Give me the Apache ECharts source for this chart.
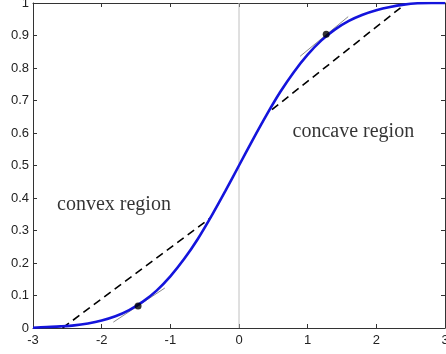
<!DOCTYPE html>
<html>
<head>
<meta charset="utf-8">
<script src="https://cdn.jsdelivr.net/npm/echarts@6/dist/echarts.min.js"></script>
<style>html,body{margin:0;padding:0;background:#fff}#c{width:446px;height:354px}</style>
</head>
<body>
<div id="c"></div>
<script>
// Sigmoid curve
const curveX = [-3,-2.8,-2.6,-2.4,-2.2,-2.0,-1.8,-1.6,-1.4,-1.2,-1.0,-0.8,-0.6,-0.4,-0.2,0,0.2,0.4,0.6,0.8,1.0,1.2,1.4,1.6,1.8,2.0,2.2,2.4,2.6,2.8,3.0];
const curveY = [0.001,0.003,0.005,0.008,0.014,0.023,0.036,0.055,0.081,0.115,0.159,0.212,0.274,0.345,0.421,0.5,0.579,0.655,0.726,0.788,0.841,0.885,0.919,0.945,0.964,0.978,0.988,0.995,0.999,1.0,1.0];
// Dashed chords
const convexChordX = [-2.57,-0.42];
const convexChordY = [0.0,0.338];
const concaveChordX = [0.48,2.41];
const concaveChordY = [0.672,0.995];
// Tangent lines
const lowTangentX = [-1.83,-1.08];
const lowTangentY = [0.018,0.123];
const highTangentX = [0.89,1.59];
const highTangentY = [0.836,0.958];
// Tangent points
const dotX = [-1.47,1.27];
const dotY = [0.068,0.904];
// Vertical reference line
const vlineX = [0,0];
const vlineY = [0,1];
// Annotations
const noteText = ['convex region','concave region'];
const noteX = [-2.65,0.78];
const noteY = [0.378,0.603];
// Tick labels
const xTicks = ['-3','-2','-1','0','1','2','3'];
const yTicks = ['0','0.1','0.2','0.3','0.4','0.5','0.6','0.7','0.8','0.9','1'];

const zip = (a,b) => a.map((v,i)=>[v,b[i]]);
const axisColor = '#333';
const chart = echarts.init(document.getElementById('c'), null, {renderer:'canvas'});
chart.setOption({
  animation:false,
  backgroundColor:'#fff',
  grid:{left:33,right:1,top:3,bottom:26,containLabel:false,outerBoundsMode:'none'},
  xAxis:[{
    type:'value',min:-3,max:3,interval:1,
    axisLine:{show:true,onZero:false,lineStyle:{color:axisColor,width:1}},
    axisTick:{show:true,inside:true,length:4,lineStyle:{color:axisColor}},
    splitLine:{show:false},
    axisLabel:{color:'#222',fontSize:13,fontFamily:'Liberation Sans',margin:6,
      formatter:v=>xTicks[Math.round(v+3)]}
  },{
    type:'value',min:-3,max:3,interval:1,position:'top',
    axisLine:{show:true,onZero:false,lineStyle:{color:axisColor,width:1}},
    axisTick:{show:true,inside:true,length:4,lineStyle:{color:axisColor}},
    splitLine:{show:false},axisLabel:{show:false}
  }],
  yAxis:[{
    type:'value',min:0,max:1,interval:0.1,
    axisLine:{show:true,onZero:false,lineStyle:{color:axisColor,width:1}},
    axisTick:{show:true,inside:true,length:4,lineStyle:{color:axisColor}},
    splitLine:{show:false},
    axisLabel:{color:'#222',fontSize:13,fontFamily:'Liberation Sans',margin:4,
      formatter:v=>yTicks[Math.round(v*10)]}
  },{
    type:'value',min:0,max:1,interval:0.1,position:'right',
    axisLine:{show:true,onZero:false,lineStyle:{color:axisColor,width:1}},
    axisTick:{show:true,inside:true,length:4,lineStyle:{color:axisColor}},
    splitLine:{show:false},axisLabel:{show:false}
  }],
  series:[
    {type:'line',data:zip(vlineX,vlineY),symbol:'none',lineStyle:{color:'#c0c0c0',width:1},z:1},
    {type:'line',data:zip(convexChordX,convexChordY),symbol:'none',lineStyle:{color:'#000',width:1.6,type:[8,5]},z:2},
    {type:'line',data:zip(concaveChordX,concaveChordY),symbol:'none',lineStyle:{color:'#000',width:1.6,type:[8,5]},z:2},
    {type:'line',data:zip(lowTangentX,lowTangentY),symbol:'none',lineStyle:{color:'#8a8a8a',width:1},z:3},
    {type:'line',data:zip(highTangentX,highTangentY),symbol:'none',lineStyle:{color:'#8a8a8a',width:1},z:3},
    {type:'line',data:zip(curveX,curveY),symbol:'none',smooth:0.3,lineStyle:{color:'#1414dc',width:2.6},z:4},
    {type:'scatter',data:zip(dotX,dotY),symbol:'circle',symbolSize:7,itemStyle:{color:'#000'},z:5},
    {type:'scatter',data:noteX.map((x,i)=>({value:[x,noteY[i]],name:noteText[i]})),symbolSize:0,z:6,
      label:{show:true,position:'right',distance:0,formatter:p=>p.name,color:'#000',fontSize:20,fontFamily:'Liberation Serif'}}
  ]
});
</script>
</body>
</html>
